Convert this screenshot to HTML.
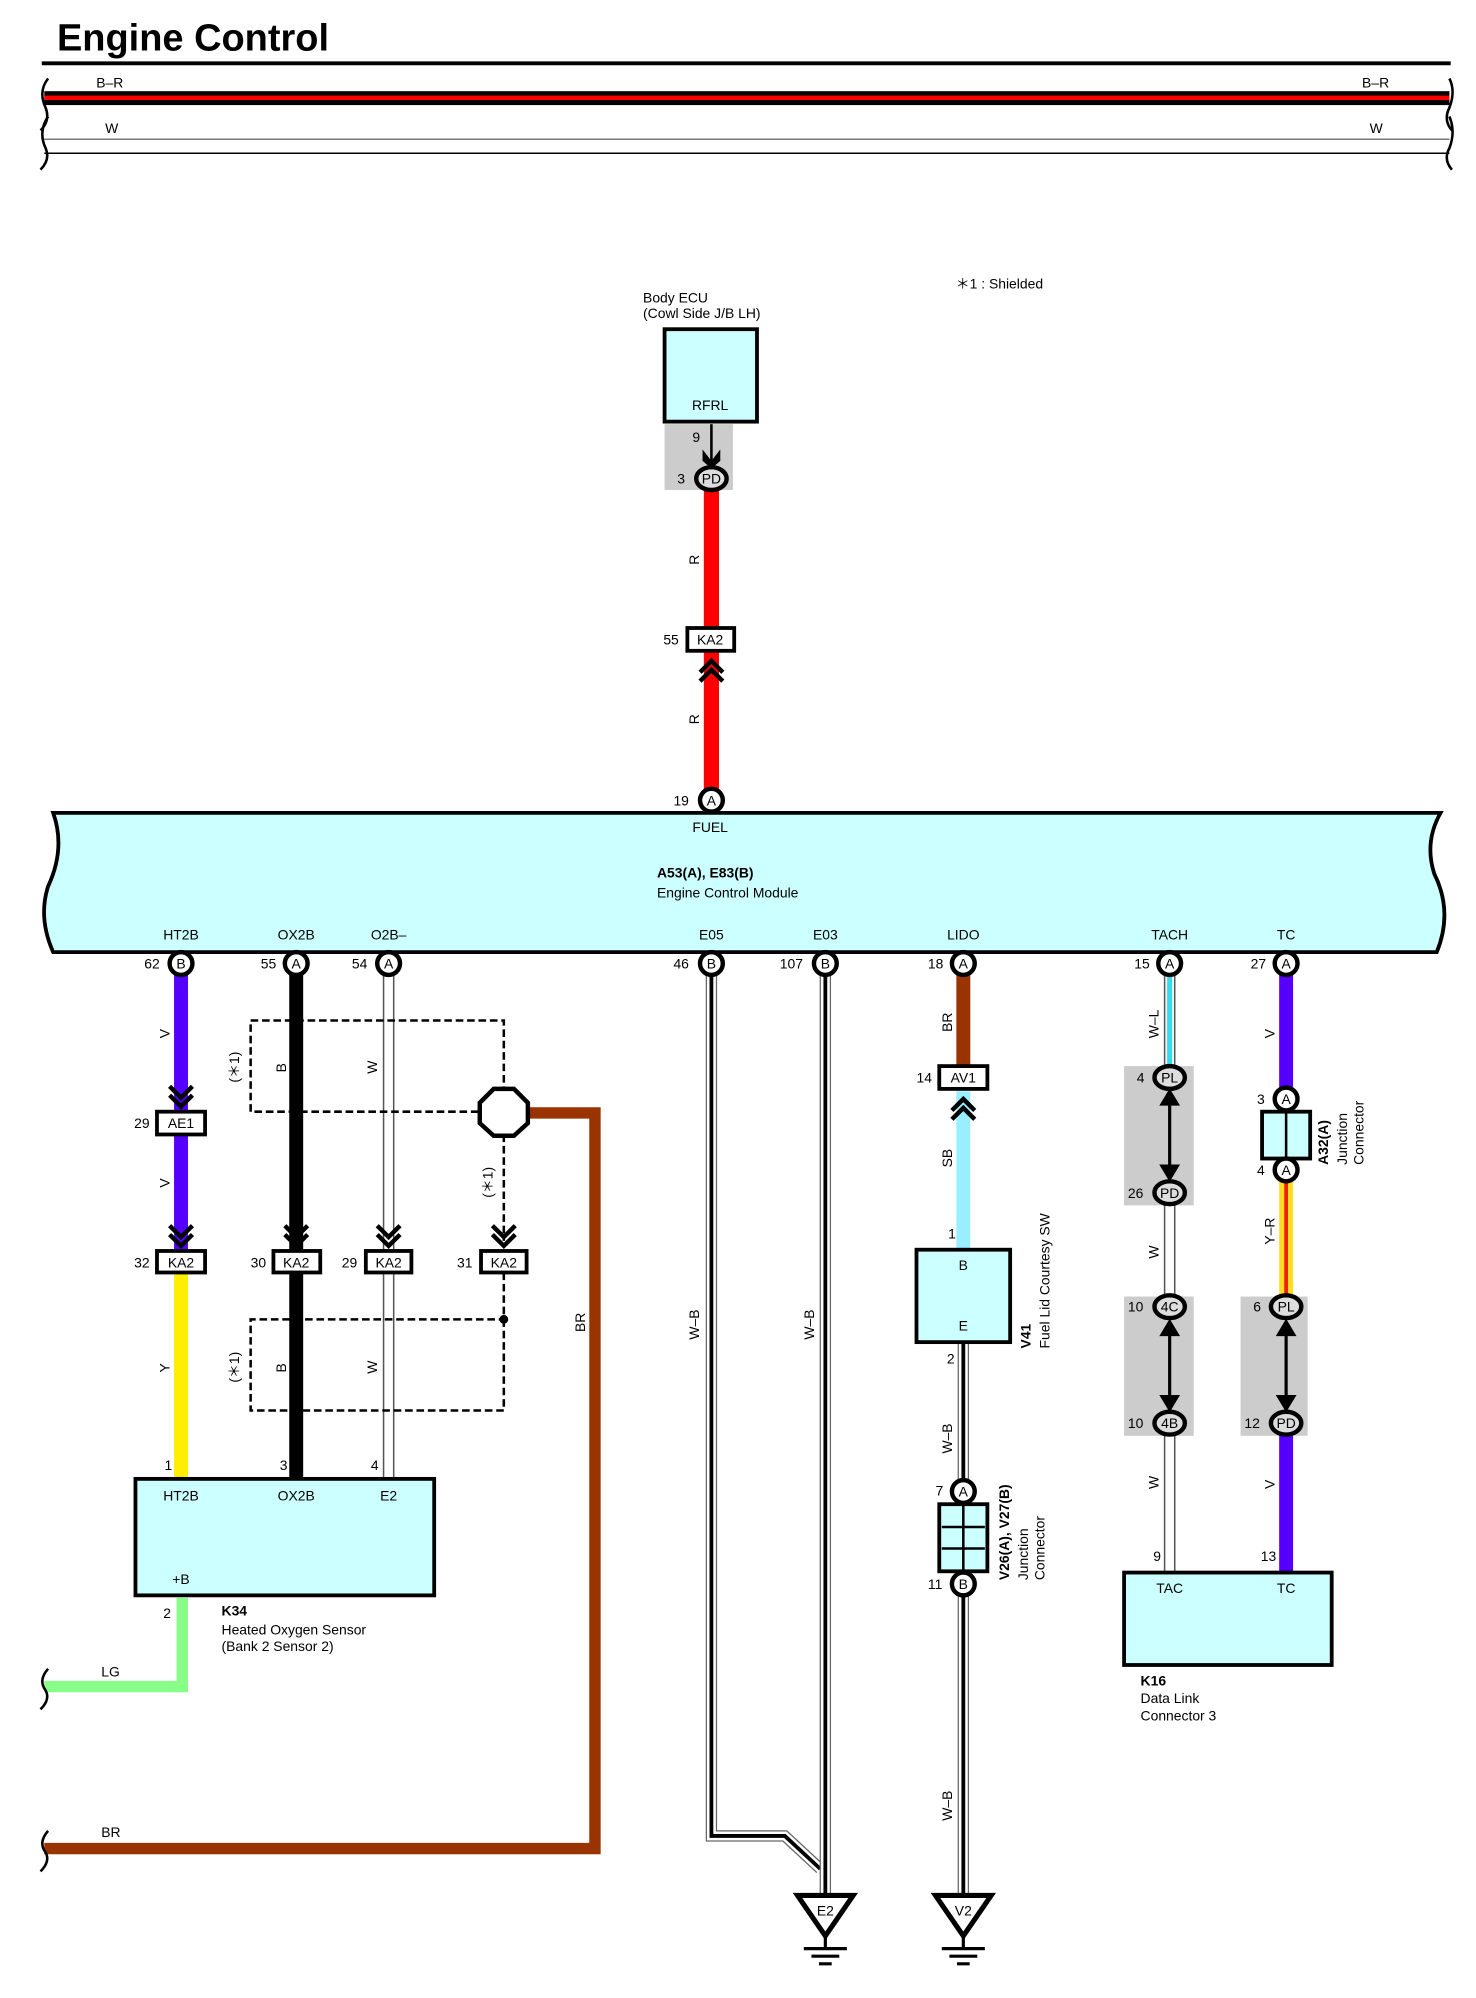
<!DOCTYPE html>
<html><head><meta charset="utf-8"><style>
html,body{margin:0;padding:0;background:#fff}
svg{display:block}
text{font-family:"Liberation Sans",sans-serif;font-size:11px;fill:#000}
.b{font-weight:bold}
.c{text-anchor:middle}
</style></head><body>
<svg width="1476" height="1998" viewBox="0 0 1166 1578" preserveAspectRatio="none" xmlns="http://www.w3.org/2000/svg">
<defs>
<g id="pc"><circle r="9" fill="#fff" stroke="#000" stroke-width="3.5"/></g>
<g id="ov"><ellipse rx="12" ry="9" fill="#ddd" stroke="#000" stroke-width="3.5"/></g>
<g id="chd"><path d="M-9,-12 L0,-3 L9,-12 M-9,-5 L0,4 L9,-5" fill="none" stroke="#000" stroke-width="3.5"/></g>
<g id="chu"><path d="M-9,12 L0,3 L9,12 M-9,5 L0,-4 L9,5" fill="none" stroke="#000" stroke-width="3.5"/></g>
<g id="gnd"><path d="M-22,0 L22,0 L0,32 Z" fill="#fff" stroke="#000" stroke-width="4"/><path d="M0,32 V42 M-17,42 H17 M-11,48 H11 M-5,54 H5" stroke="#000" stroke-width="2.5"/></g>
</defs>

<text x="45" y="40" class="b" style="font-size:30px">Engine Control</text>
<line x1="33" y1="50" x2="1146" y2="50" stroke="#000" stroke-width="3"/>
<rect x="35" y="72" width="1110" height="11" fill="#000"/>
<rect x="35" y="75.5" width="1110" height="3.5" fill="#f00"/>
<line x1="35" y1="110" x2="1145" y2="110" stroke="#777" stroke-width="1.2"/>
<line x1="35" y1="121" x2="1145" y2="121" stroke="#000" stroke-width="1.2"/>
<path d="M38,62 Q30,72 36,85 Q40,95 32,103 M38,92 Q30,104 36,117 Q40,126 32,134" fill="none" stroke="#000" stroke-width="2"/>
<path d="M1145,62 Q1150,72 1145,85 Q1140,95 1147,103 M1145,92 Q1150,104 1145,117 Q1140,126 1147,134" fill="none" stroke="#000" stroke-width="2"/>
<text x="76" y="69">B–R</text><text x="1076" y="69">B–R</text>
<text x="83" y="105">W</text><text x="1082" y="105">W</text>

<text x="755" y="228">＊1 : Shielded</text>

<text x="508" y="239">Body ECU</text>
<text x="508" y="251">(Cowl Side J/B LH)</text>
<rect x="525" y="260" width="73" height="73" fill="#ccffff" stroke="#000" stroke-width="3"/>
<text x="561" y="324" class="c">RFRL</text>
<rect x="525" y="335" width="54" height="52" fill="#ccc"/>
<line x1="562" y1="335" x2="562" y2="365" stroke="#000" stroke-width="2"/>
<path d="M555,355 L562,364 L569,355 L569,364 L562,370 L555,364Z" fill="#000"/>
<text x="547" y="349">9</text>
<rect x="556" y="387" width="12" height="238" fill="#f00"/>
<use href="#ov" x="562" y="378"/><text x="562" y="382" class="c">PD</text><text x="535" y="382">3</text>
<text transform="translate(552,446) rotate(-90)">R</text>
<text transform="translate(552,572) rotate(-90)">R</text>
<rect x="543" y="496" width="37" height="18" fill="#fff" stroke="#000" stroke-width="3"/>
<text x="561" y="509" class="c">KA2</text><text x="524" y="509">55</text>
<use href="#chu" x="562" y="526"/>
<use href="#pc" x="562" y="632"/><text x="562" y="636" class="c">A</text><text x="532" y="636">19</text>

<path d="M42,642 L1138,642 Q1125,665 1133,690 Q1148,720 1135,752 L42,752 Q30,725 38,700 Q52,670 42,642Z" fill="#ccffff" stroke="#000" stroke-width="3"/>
<text x="561" y="657" class="c">FUEL</text>
<text x="519" y="693" class="b">A53(A), E83(B)</text>
<text x="519" y="709">Engine Control Module</text>
<text x="143" y="742" class="c">HT2B</text><text x="234" y="742" class="c">OX2B</text><text x="307" y="742" class="c">O2B–</text>
<text x="562" y="742" class="c">E05</text><text x="652" y="742" class="c">E03</text><text x="761" y="742" class="c">LIDO</text>
<text x="924" y="742" class="c">TACH</text><text x="1016" y="742" class="c">TC</text>

<line x1="143" y1="770" x2="143" y2="988" stroke="#5500ff" stroke-width="11"/>
<line x1="143" y1="1005" x2="143" y2="1168" stroke="#ffee00" stroke-width="11"/>
<text transform="translate(134,820) rotate(-90)">V</text>
<text transform="translate(134,938) rotate(-90)">V</text>
<text transform="translate(134,1084) rotate(-90)">Y</text>
<use href="#chd" x="143" y="870"/>
<rect x="124" y="878" width="38" height="18" fill="#fff" stroke="#000" stroke-width="3"/><text x="143" y="891" class="c">AE1</text><text x="106" y="891">29</text>
<use href="#chd" x="143" y="980"/>
<rect x="124" y="988" width="38" height="17" fill="#fff" stroke="#000" stroke-width="3"/><text x="143" y="1001" class="c">KA2</text><text x="106" y="1001">32</text>
<line x1="234" y1="770" x2="234" y2="1168" stroke="#000" stroke-width="11"/>
<use href="#chd" x="234" y="980"/>
<rect x="216" y="988" width="37" height="17" fill="#fff" stroke="#000" stroke-width="3"/><text x="234" y="1001" class="c">KA2</text><text x="198" y="1001">30</text>
<text transform="translate(226,847) rotate(-90)">B</text>
<text transform="translate(226,1084) rotate(-90)">B</text>
<line x1="303" y1="770" x2="303" y2="1168" stroke="#555" stroke-width="1.2"/>
<line x1="311" y1="770" x2="311" y2="1168" stroke="#555" stroke-width="1.2"/>
<use href="#chd" x="307" y="980"/>
<rect x="289" y="988" width="36" height="17" fill="#fff" stroke="#000" stroke-width="3"/><text x="307" y="1001" class="c">KA2</text><text x="270" y="1001">29</text>
<text transform="translate(298,848) rotate(-90)">W</text>
<text transform="translate(298,1085) rotate(-90)">W</text>
<path d="M198,806 H398 V860 M378,878 H198 V806" fill="none" stroke="#000" stroke-width="2" stroke-dasharray="6,3"/>
<path d="M398,896 V980 M398,1005 V1042 M398,1042 V1114 H198 V1042 H398" fill="none" stroke="#000" stroke-width="2" stroke-dasharray="6,3"/>
<circle cx="398" cy="1042" r="3.5" fill="#000"/>
<use href="#chd" x="398" y="980"/>
<rect x="380" y="988" width="36" height="17" fill="#fff" stroke="#000" stroke-width="3"/><text x="398" y="1001" class="c">KA2</text><text x="361" y="1001">31</text>
<text transform="translate(189,855) rotate(-90)">(＊1)</text>
<text transform="translate(389,946) rotate(-90)">(＊1)</text>
<text transform="translate(189,1092) rotate(-90)">(＊1)</text>
<path d="M416,879 H470 V1460 H35" fill="none" stroke="#993300" stroke-width="9"/>
<path d="M390,860 L406,860 L417,871 L417,887 L406,897 L390,897 L379,887 L379,871Z" fill="#fff" stroke="#000" stroke-width="3.5"/>
<text transform="translate(462,1052) rotate(-90)">BR</text>
<text x="80" y="1451">BR</text>
<path d="M38,1446 Q30,1455 36,1463 Q40,1470 32,1478" fill="none" stroke="#000" stroke-width="2"/>
<use href="#pc" x="143" y="761"/><text x="143" y="765" class="c">B</text><text x="114" y="765">62</text>
<use href="#pc" x="234" y="761"/><text x="234" y="765" class="c">A</text><text x="206" y="765">55</text>
<use href="#pc" x="307" y="761"/><text x="307" y="765" class="c">A</text><text x="278" y="765">54</text>

<rect x="107" y="1168" width="236" height="92" fill="#ccffff" stroke="#000" stroke-width="3"/>
<text x="143" y="1185" class="c">HT2B</text><text x="234" y="1185" class="c">OX2B</text><text x="307" y="1185" class="c">E2</text>
<text x="143" y="1251" class="c">+B</text>
<text x="130" y="1161">1</text><text x="221" y="1161">3</text><text x="293" y="1161">4</text>
<path d="M144,1262 V1332 H35" fill="none" stroke="#88ff88" stroke-width="9"/>
<text x="129" y="1278">2</text>
<text x="80" y="1324">LG</text>
<path d="M38,1318 Q30,1327 36,1335 Q40,1342 32,1350" fill="none" stroke="#000" stroke-width="2"/>
<text x="175" y="1276" class="b">K34</text>
<text x="175" y="1291">Heated Oxygen Sensor</text>
<text x="175" y="1304">(Bank 2 Sensor 2)</text>

<g fill="none" stroke-linejoin="miter">
<path d="M562,770 V1450 H620 L648,1476" stroke="#666" stroke-width="9"/>
<path d="M562,770 V1450 H620 L648,1476" stroke="#fff" stroke-width="7"/>
<path d="M562,770 V1450 H620 L648,1476" stroke="#000" stroke-width="3"/>
<path d="M652,770 V1497" stroke="#666" stroke-width="9"/>
<path d="M652,770 V1497" stroke="#fff" stroke-width="7"/>
<path d="M652,770 V1497" stroke="#000" stroke-width="3"/>
<path d="M761,1060 V1497" stroke="#666" stroke-width="9"/>
<path d="M761,1060 V1497" stroke="#fff" stroke-width="7"/>
<path d="M761,1060 V1497" stroke="#000" stroke-width="3"/>
</g>
<text transform="translate(552,1058) rotate(-90)">W–B</text>
<text transform="translate(643,1058) rotate(-90)">W–B</text>
<text transform="translate(752,1148) rotate(-90)">W–B</text>
<text transform="translate(752,1438) rotate(-90)">W–B</text>
<use href="#gnd" x="652" y="1497"/><text x="652" y="1513" class="c">E2</text>
<use href="#gnd" x="761" y="1497"/><text x="761" y="1513" class="c">V2</text>
<use href="#pc" x="562" y="761"/><text x="562" y="765" class="c">B</text><text x="532" y="765">46</text>
<use href="#pc" x="652" y="761"/><text x="652" y="765" class="c">B</text><text x="616" y="765">107</text>

<line x1="761" y1="770" x2="761" y2="843" stroke="#993300" stroke-width="11"/>
<line x1="761" y1="862" x2="761" y2="987" stroke="#99eeff" stroke-width="11"/>
<text transform="translate(752,815) rotate(-90)">BR</text>
<text transform="translate(752,922) rotate(-90)">SB</text>
<rect x="742" y="842" width="38" height="18" fill="#fff" stroke="#000" stroke-width="3"/><text x="761" y="855" class="c">AV1</text><text x="724" y="855">14</text>
<use href="#chu" x="761" y="872"/>
<use href="#pc" x="761" y="761"/><text x="761" y="765" class="c">A</text><text x="733" y="765">18</text>
<text x="749" y="978">1</text>
<rect x="724" y="987" width="74" height="73" fill="#ccffff" stroke="#000" stroke-width="3"/>
<text x="761" y="1003" class="c">B</text><text x="761" y="1051" class="c">E</text>
<text x="748" y="1077">2</text>
<text transform="translate(814,1065) rotate(-90)" class="b">V41</text>
<text transform="translate(829,1065) rotate(-90)">Fuel Lid Courtesy SW</text>
<rect x="742" y="1188" width="38" height="53" fill="#ccffff" stroke="#000" stroke-width="3"/>
<path d="M761,1188 V1241 M744,1206 H778 M744,1223 H778" stroke="#000" stroke-width="2"/>
<use href="#pc" x="761" y="1178"/><text x="761" y="1182" class="c">A</text><text x="739" y="1181">7</text>
<use href="#pc" x="761" y="1251"/><text x="761" y="1255" class="c">B</text><text x="733" y="1255">11</text>
<text transform="translate(797,1248) rotate(-90)" class="b">V26(A), V27(B)</text>
<text transform="translate(812,1248) rotate(-90)">Junction</text>
<text transform="translate(825,1248) rotate(-90)">Connector</text>

<rect x="888" y="842" width="55" height="110" fill="#ccc"/>
<rect x="888" y="1024" width="55" height="110" fill="#ccc"/>
<rect x="980" y="1024" width="53" height="110" fill="#ccc"/>
<line x1="920" y1="770" x2="920" y2="1242" stroke="#555" stroke-width="1.2"/>
<line x1="928" y1="770" x2="928" y2="1242" stroke="#555" stroke-width="1.2"/>
<line x1="924" y1="770" x2="924" y2="842" stroke="#33ddee" stroke-width="4"/>
<rect x="918" y="860" width="12" height="74" fill="#ccc"/>
<rect x="918" y="1042" width="12" height="74" fill="#ccc"/>
<line x1="1016" y1="770" x2="1016" y2="868" stroke="#5500ff" stroke-width="11"/>
<line x1="1016" y1="933" x2="1016" y2="1024" stroke="#ffdd22" stroke-width="11"/>
<line x1="1016" y1="933" x2="1016" y2="1024" stroke="#ee2200" stroke-width="3"/>
<line x1="1016" y1="1133" x2="1016" y2="1242" stroke="#5500ff" stroke-width="11"/>
<g stroke="#000" stroke-width="2.5" fill="#000">
<line x1="924" y1="865" x2="924" y2="928"/>
<path d="M918,872 L924,862 L930,872Z"/><path d="M918,921 L924,931 L930,921Z"/>
<line x1="924" y1="1046" x2="924" y2="1110"/>
<path d="M918,1054 L924,1044 L930,1054Z"/><path d="M918,1103 L924,1113 L930,1103Z"/>
<line x1="1016" y1="1046" x2="1016" y2="1110"/>
<path d="M1010,1054 L1016,1044 L1022,1054Z"/><path d="M1010,1103 L1016,1113 L1022,1103Z"/>
</g>
<use href="#ov" x="924" y="851"/><text x="924" y="855" class="c">PL</text><text x="898" y="855">4</text>
<use href="#ov" x="924" y="942"/><text x="924" y="946" class="c">PD</text><text x="891" y="946">26</text>
<use href="#ov" x="924" y="1032"/><text x="924" y="1036" class="c">4C</text><text x="891" y="1036">10</text>
<use href="#ov" x="924" y="1124"/><text x="924" y="1128" class="c">4B</text><text x="891" y="1128">10</text>
<text transform="translate(915,820) rotate(-90)">W–L</text>
<text transform="translate(915,994) rotate(-90)">W</text>
<text transform="translate(915,1176) rotate(-90)">W</text>
<use href="#pc" x="924" y="761"/><text x="924" y="765" class="c">A</text><text x="896" y="765">15</text>
<text x="911" y="1233">9</text>

<rect x="997" y="878" width="38" height="37" fill="#ccffff" stroke="#000" stroke-width="3"/>
<line x1="1016" y1="878" x2="1016" y2="915" stroke="#000" stroke-width="2"/>
<use href="#pc" x="1016" y="868"/><text x="1016" y="872" class="c">A</text><text x="993" y="872">3</text>
<use href="#pc" x="1016" y="924"/><text x="1016" y="928" class="c">A</text><text x="993" y="928">4</text>
<use href="#ov" x="1016" y="1032"/><text x="1016" y="1036" class="c">PL</text><text x="990" y="1036">6</text>
<use href="#ov" x="1016" y="1124"/><text x="1016" y="1128" class="c">PD</text><text x="983" y="1128">12</text>
<use href="#pc" x="1016" y="761"/><text x="1016" y="765" class="c">A</text><text x="988" y="765">27</text>
<text transform="translate(1007,820) rotate(-90)">V</text>
<text transform="translate(1007,983) rotate(-90)">Y–R</text>
<text transform="translate(1007,1176) rotate(-90)">V</text>
<text transform="translate(1049,920) rotate(-90)" class="b">A32(A)</text>
<text transform="translate(1064,920) rotate(-90)">Junction</text>
<text transform="translate(1077,920) rotate(-90)">Connector</text>
<text x="996" y="1233">13</text>

<rect x="888" y="1242" width="164" height="73" fill="#ccffff" stroke="#000" stroke-width="3"/>
<text x="924" y="1258" class="c">TAC</text><text x="1016" y="1258" class="c">TC</text>
<text x="901" y="1331" class="b">K16</text>
<text x="901" y="1345">Data Link</text>
<text x="901" y="1359">Connector 3</text>
</svg>
</body></html>
